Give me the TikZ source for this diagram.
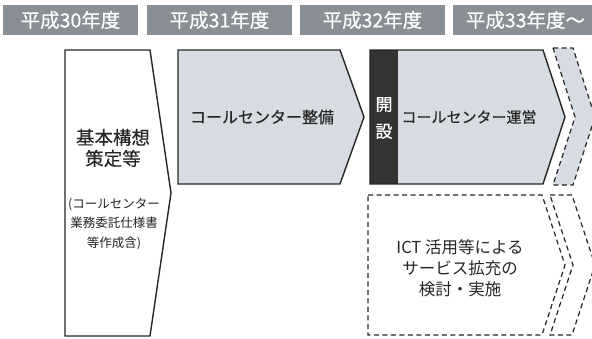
\documentclass[tikz,border=0pt]{standalone}
\usepackage{fontspec}
\setmainfont{Noto Sans CJK JP}
\newfontfamily\medfont{Noto Sans CJK JP}[FakeBold=0.3]
\newfontfamily\boldish{Noto Sans CJK JP}[FakeBold=0.6]
\begin{document}
\begin{tikzpicture}[x=1pt,y=-1pt,
  hdr/.style={fill=hdrgray,text=white,minimum height=30pt,inner sep=0pt,font=\medfont\fontsize{19.5}{20}\selectfont},
  solidshape/.style={draw=black!85,line width=1.4pt,line join=miter},
  dashshape/.style={draw=black!85,line width=1.2pt,dash pattern=on 5pt off 3.5pt},
  lbl/.style={align=center,inner sep=0pt,text=black!85}]
\definecolor{hdrgray}{HTML}{8A8F95}
\definecolor{lightfill}{HTML}{D6DCE1}
\definecolor{darkbar}{HTML}{333333}
\useasboundingbox (0,0) rectangle (592,338);
\fill[white] (0,0) rectangle (592,338);
% headers
\node[hdr,minimum width=135pt] (h1) at (70.5,20) {平成30年度};
\node[hdr,minimum width=145pt] (h2) at (219.5,20) {平成31年度};
\node[hdr,minimum width=145pt] (h3) at (372.5,20) {平成32年度};
\node[hdr,minimum width=145pt] (h4) at (525.5,20) {平成33年度\char"301C};
% shape 1
\draw[solidshape,fill=white] (65,50) -- (150,50) -- (171,193) -- (150,336) -- (65,336) -- cycle;
\node[lbl,font=\medfont\fontsize{18.5}{21}\selectfont] (t1) at (113,148) {基本構想\\策定等};
\node[lbl,font=\fontsize{12.5}{19.5}\selectfont] (t1b) at (114,224) {(コールセンター\\業務委託仕様書\\等作成含)};
% shape 2
\draw[solidshape,fill=lightfill] (178,50) -- (340,50) -- (364,117) -- (340,184) -- (178,184) -- cycle;
\node[lbl,font=\medfont\fontsize{16}{16}\selectfont] (t2) at (262,117) {コールセンター整備};
% shape 3
\fill[lightfill] (398,50) -- (543,50) -- (565,117) -- (543,184) -- (398,184) -- cycle;
\fill[darkbar] (370,50) rectangle (398,184);
\draw[solidshape] (370,50) -- (543,50) -- (565,117) -- (543,184) -- (370,184) -- cycle;
\node[lbl,text=white,font=\boldish\fontsize{17}{27}\selectfont] (t3a) at (384,118) {開\\設};
\node[lbl,font=\medfont\fontsize{15}{16}\selectfont] (t3) at (469,117) {コールセンター運営};
% dashed chevron top
\draw[dashshape,fill=lightfill] (553,48) -- (573,48) -- (595,117) -- (573,185) -- (553,185) -- (575,117) -- cycle;
% lower dashed box
\draw[dashshape] (368,195) -- (542,195) -- (565,265) -- (542,335) -- (368,335) -- cycle;
\node[lbl,font=\fontsize{16.5}{21}\selectfont] (t4) at (460,268) {ICT 活用等による\\サービス拡充の\\検討・実施};
\draw[dashshape] (550,195) -- (572,195) -- (595,265) -- (572,335) -- (550,335) -- (573,265) -- cycle;
\end{tikzpicture}
\end{document}
